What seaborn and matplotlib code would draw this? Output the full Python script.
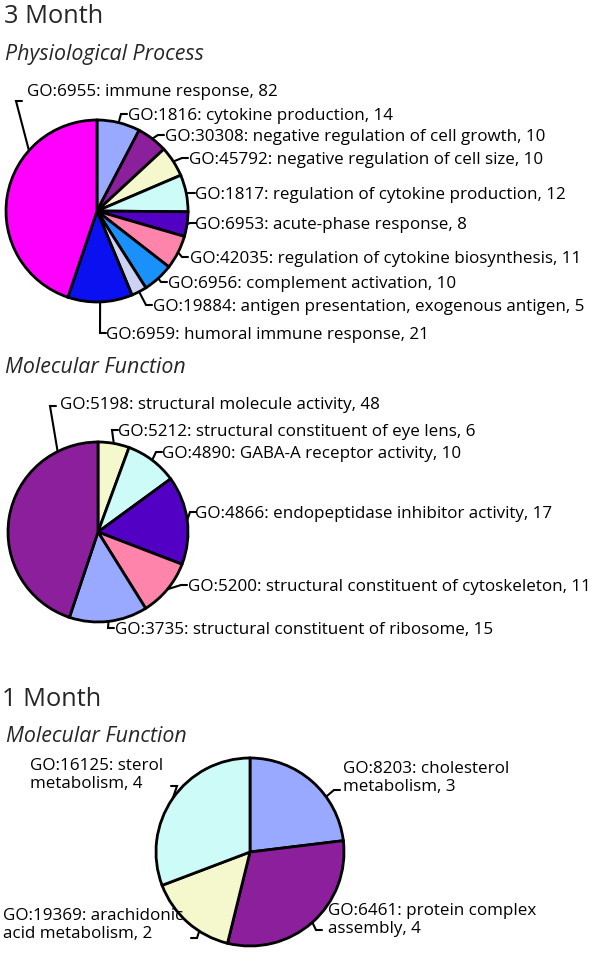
import numpy as np
import matplotlib
matplotlib.use("Agg")
import matplotlib.pyplot as plt
import seaborn as sns

# figure size in pixels (layout below is given in image pixels, y from the top)
W, H = 600, 963

# ─────────────────────────────────────────────
# DATA  (slices listed clockwise from 12 o'clock)
# ─────────────────────────────────────────────
PP_TERMS = [
    "GO:1816: cytokine production",
    "GO:30308: negative regulation of cell growth",
    "GO:45792: negative regulation of cell size",
    "GO:1817: regulation of cytokine production",
    "GO:6953: acute-phase response",
    "GO:42035: regulation of cytokine biosynthesis",
    "GO:6956: complement activation",
    "GO:19884: antigen presentation, exogenous antigen",
    "GO:6959: humoral immune response",
    "GO:6955: immune response",
]
PP_COUNTS = [14, 10, 10, 12, 8, 11, 10, 5, 21, 82]

MF3_TERMS = [
    "GO:5212: structural constituent of eye lens",
    "GO:4890: GABA-A receptor activity",
    "GO:4866: endopeptidase inhibitor activity",
    "GO:5200: structural constituent of cytoskeleton",
    "GO:3735: structural constituent of ribosome",
    "GO:5198: structural molecule activity",
]
MF3_COUNTS = [6, 10, 17, 11, 15, 48]

MF1_TERMS = [
    "GO:8203: cholesterol\nmetabolism",
    "GO:6461: protein complex\nassembly",
    "GO:19369: arachidonic\nacid metabolism",
    "GO:16125: sterol\nmetabolism",
]
MF1_COUNTS = [3, 4, 2, 4]

# ─────────────────────────────────────────────
# STYLE
# ─────────────────────────────────────────────
LAVENDER = "#99a9ff"
PURPLE   = "#8c1f9c"
YELLOW   = "#f4f8cc"
CYAN     = "#ccfbf8"
INDIGO   = "#5100c4"
PINK     = "#fe84ac"
AZURE    = "#1a90fa"
PALE     = "#ccd2f4"
BLUE     = "#0a10f0"
MAGENTA  = "#ff00ff"

PP_COLORS  = [LAVENDER, PURPLE, YELLOW, CYAN, INDIGO, PINK, AZURE, PALE, BLUE, MAGENTA]
MF3_COLORS = [YELLOW, CYAN, INDIGO, PINK, LAVENDER, PURPLE]
MF1_COLORS = [LAVENDER, PURPLE, YELLOW, CYAN]

# label layout: text x, first baseline y, elbow x, elbow y, attach point in wedge (0..1)
PP_LAYOUT = [
    (128, 120, 121, 114, 0.5),
    (165, 141, 158, 135, 0.5),
    (189, 164, 182, 158, 0.5),
    (195, 199, 189, 193, 0.5),
    (195, 229, 190, 223, 0.5),
    (190, 263, 182, 257, 0.5),
    (168, 288, 161, 282, 0.5),
    (153, 311, 146, 305, 0.5),
    (106, 339, 100, 333, 0.5),
    (27,   96, 16, 101, 0.30),
]
MF3_LAYOUT = [
    (118, 436, 112, 430, 0.5),
    (162, 458, 156, 452, 0.5),
    (195, 518, 190, 512, 0.5),
    (188, 591, 181, 585, 0.5),
    (115, 634, 108, 628, 0.5),
    (60,  409, 50, 406, 0.165),
]
MF1_LAYOUT = [
    (343, 791, 334, 790, 0.35),
    (328, 933, 316, 930, 0.5),
    (3,   938, 197, 938, 0.66),
    (30,  788, 177, 786, 0.5),
]

sns.set_theme(style="white")
plt.rcParams["font.family"] = ["Open Sans", "DejaVu Sans"]

LABEL_FS = 12.25


def draw_pie(ax, counts, terms, colors, center, radius, layout):
    cx, cy = center
    wedges, _ = ax.pie(counts, colors=colors, startangle=90, counterclock=False,
                       center=(cx, H - cy), radius=radius,
                       wedgeprops=dict(edgecolor="black", linewidth=2.0))
    for w, term, n, (tx, ty, ex, ey, f) in zip(wedges, terms, counts, layout):
        a = np.deg2rad(w.theta1 + f * (w.theta2 - w.theta1))
        x0 = cx + radius * np.cos(a)
        y0 = cy - radius * np.sin(a)
        d = 1 if tx > ex else -1
        ax.plot([x0, ex, ex + 6 * d], [H - y0, H - ey, H - ey],
                color="black", lw=1.5, solid_joinstyle="miter", zorder=0)
        ax.text(tx, H - ty, f"{term}, {n}", ha="left", va="baseline",
                fontsize=LABEL_FS, color="black")


fig = plt.figure(figsize=(W / 100, H / 100), dpi=100)
ax = fig.add_axes([0, 0, 1, 1])

draw_pie(ax, PP_COUNTS, PP_TERMS, PP_COLORS, (97, 211), 91, PP_LAYOUT)
draw_pie(ax, MF3_COUNTS, MF3_TERMS, MF3_COLORS, (98, 532), 90, MF3_LAYOUT)
draw_pie(ax, MF1_COUNTS, MF1_TERMS, MF1_COLORS, (250, 852), 94, MF1_LAYOUT)

# section headings
ax.text(4, H - 23, "3 Month", fontsize=18.3, ha="left", va="baseline")
ax.text(5, H - 60, "Physiological Process", fontsize=15.4, style="italic",
        ha="left", va="baseline")
ax.text(5, H - 373, "Molecular Function", fontsize=15.4, style="italic",
        ha="left", va="baseline")
ax.text(2, H - 706, "1 Month", fontsize=18.3, ha="left", va="baseline")
ax.text(6, H - 742, "Molecular Function", fontsize=15.4, style="italic",
        ha="left", va="baseline")

ax.set_xlim(0, W)
ax.set_ylim(0, H)
ax.set_aspect("equal")
ax.axis("off")

fig.savefig("out.png", dpi=100)
plt.close(fig)
